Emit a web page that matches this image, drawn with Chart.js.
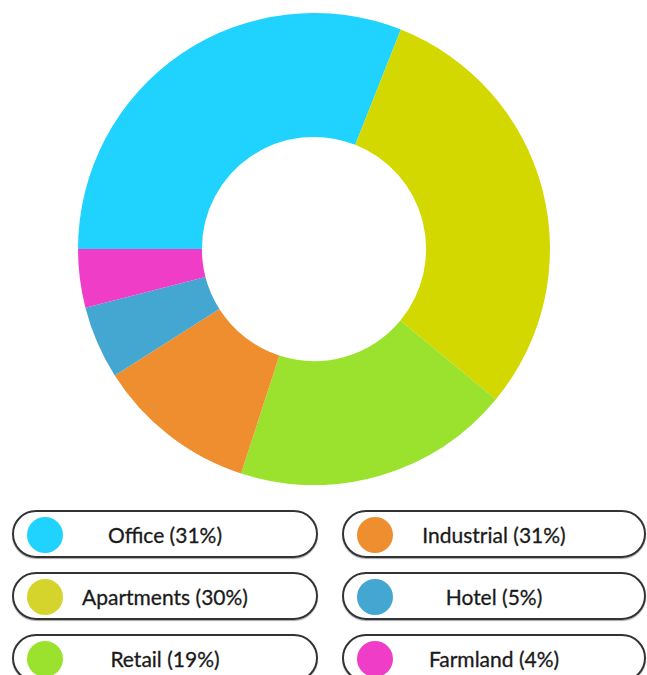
<!DOCTYPE html>
<html>
<head>
<meta charset="utf-8">
<script src="https://cdn.jsdelivr.net/npm/chart.js@4"></script>
<style>
    body { margin: 0; background: #fff; width: 647px; height: 675px; overflow: hidden; position: relative; font-family: Lato, "Open Sans", sans-serif; }
    #chartBox { position: absolute; left: 78px; top: 13px; width: 472px; height: 472px; }
    #legend { position: absolute; left: 12px; top: 510px; width: 634px; display: grid; grid-template-columns: 306px 304px; column-gap: 24px; row-gap: 14px; }
    .pill { position: relative; height: 44px; border: 2px solid #333; border-radius: 24px; box-shadow: 0 1px 1px rgba(0,0,0,0.35); display: flex; align-items: center; justify-content: center; font-size: 21px; color: #1a1a1a; -webkit-text-stroke: 0.3px #1a1a1a; }
    .pill .dot { position: absolute; left: 13px; top: 5px; width: 36px; height: 36px; border-radius: 50%; }
</style>
</head>
<body>
<div id="chartBox"><canvas id="donut"></canvas></div>
<div id="legend"></div>
<script>
const categories = ['Office', 'Apartments', 'Retail', 'Industrial', 'Hotel', 'Farmland'];
const shares = [31, 30, 19, 11, 5, 4];
const colors = ['#1fd3fe', '#d3d800', '#9ae22e', '#ee8e2f', '#43a7d1', '#f03dc8'];
// legend text as printed in the picture
const legendLabels = ['Office (31%)', 'Apartments (30%)', 'Retail (19%)', 'Industrial (31%)', 'Hotel (5%)', 'Farmland (4%)'];
const legendColors = ['#1fd3fe', '#d4d42c', '#9ae22e', '#ee8e2f', '#43a7d1', '#f03dc8'];
const legendOrder = [0, 3, 1, 4, 2, 5];

document.addEventListener("DOMContentLoaded", function() {
    const ctx = document.getElementById('donut').getContext('2d');
    new Chart(ctx, {
        type: 'doughnut',
        data: {
            labels: categories,
            datasets: [{
                data: shares,
                backgroundColor: colors,
                borderWidth: 0
            }]
        },
        options: {
            responsive: true,
            maintainAspectRatio: false,
            animation: false,
            rotation: -90,
            cutout: '47.5%',
            layout: { padding: 0 },
            plugins: {
                legend: { display: false },
                tooltip: { enabled: false }
            }
        }
    });

    const legend = document.getElementById('legend');
    legendOrder.forEach(i => {
        const pill = document.createElement('div');
        pill.className = 'pill';
        pill.innerHTML = `<span class="dot" style="background:${legendColors[i]}"></span><span>${legendLabels[i]}</span>`;
        legend.appendChild(pill);
    });
});
</script>
</body>
</html>
